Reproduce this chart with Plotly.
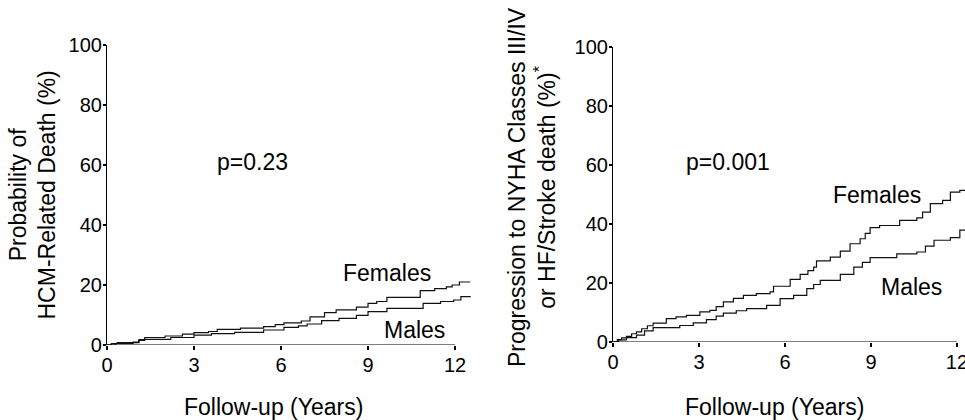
import plotly.graph_objects as go

# ---- data ----
tick_vals = [0, 3, 6, 9, 12]
tick_text = ["0", "3", "6", "9", "12"]
y_tick_vals = [0, 20, 40, 60, 80, 100]

left_fem_x = [0, 0.15, 0.35, 0.9, 1.1, 1.3, 2.0, 2.6, 3.0, 3.5, 3.8, 4.6, 5.4, 5.8, 6.1, 6.7, 7.0, 7.5, 7.9,
              8.6, 9.0, 9.3, 9.65, 10.8, 11.3, 11.7, 11.9, 12.15, 12.52]
left_fem_y = [0, 0.5, 0.8, 1.0, 1.8, 2.5, 3.0, 3.6, 4.1, 4.5, 5.2, 5.6, 6.1, 6.8, 7.4, 8.0, 9.4, 10.8, 11.7,
              12.6, 13.9, 14.5, 15.9, 18.1, 18.8, 19.4, 20.0, 21.0, 21.0]
left_male_x = [0, 0.3, 0.9, 1.1, 1.3, 2.2, 3.0, 3.6, 4.4, 5.4, 6.1, 6.6, 6.9, 7.4, 8.0, 8.6, 9.0, 9.65,
               10.9, 11.5, 11.95, 12.2, 12.52]
left_male_y = [0, 0.5, 0.8, 1.5, 1.9, 2.5, 3.3, 3.8, 4.2, 5.0, 5.9, 6.4, 7.0, 8.1, 8.9, 9.9, 11.1, 12.2,
               13.9, 14.5, 15.0, 16.1, 16.3]

right_fem_x = [0, 0.15, 0.3, 0.47, 0.65, 0.82, 1.0, 1.2, 1.4, 1.86, 2.2, 2.56, 3.03, 3.38, 3.6, 3.85, 4.2,
               4.55, 5.0, 5.48, 5.6, 6.18, 6.53, 6.8, 7.0, 7.1, 7.58, 7.93, 8.27, 8.62, 8.8, 8.97, 9.3,
               10.0, 10.6, 10.8, 11.07, 11.5, 11.77, 12.1, 12.5]
right_fem_y = [0, 0.8, 1.4, 1.9, 2.8, 3.4, 4.5, 5.5, 6.4, 7.9, 8.5, 9.0, 10.2, 10.7, 12.0, 13.6, 14.8,
               15.8, 16.4, 17.0, 18.9, 21.2, 22.9, 24.2, 25.4, 27.5, 28.8, 30.8, 33.3, 35.0, 36.8, 38.8, 39.5,
               41.2, 42.1, 44.0, 46.9, 48.0, 50.8, 51.4, 51.5]
right_male_x = [0, 0.2, 0.47, 0.82, 1.1, 1.4, 2.33, 2.8, 3.26, 3.6, 3.85, 4.3, 4.66, 5.36, 5.83, 6.3, 6.76,
                7.0, 7.23, 7.93, 8.4, 8.7, 8.97, 9.9, 10.6, 10.9, 11.2, 11.77, 12.1, 12.5]
right_male_y = [0, 0.7, 1.5, 2.3, 3.8, 4.9, 5.6, 6.5, 7.6, 8.8, 9.8, 10.6, 11.3, 12.4, 14.7, 15.8, 18.1,
                19.5, 20.9, 22.9, 25.4, 27.0, 28.6, 29.9, 30.5, 32.5, 34.5, 35.4, 37.9, 38.0]

FONT = "Liberation Sans, Arial, Helvetica, sans-serif"
LINE = dict(color="#111111", width=1.2, shape="hv")

W, H = 965, 420


def px(sx):
    """screen x pixel -> paper fraction"""
    return sx / W


def py(sy):
    """screen y pixel (from top) -> paper fraction (from bottom)"""
    return (H - sy) / H


fig = go.Figure()
fig.add_trace(go.Scatter(x=left_fem_x, y=left_fem_y, mode="lines", line=LINE, xaxis="x", yaxis="y",
                         showlegend=False, name="Females"))
fig.add_trace(go.Scatter(x=left_male_x, y=left_male_y, mode="lines", line=LINE, xaxis="x", yaxis="y",
                         showlegend=False, name="Males"))
fig.add_trace(go.Scatter(x=right_fem_x, y=right_fem_y, mode="lines", line=LINE, xaxis="x2", yaxis="y2",
                         showlegend=False, name="Females"))
fig.add_trace(go.Scatter(x=right_male_x, y=right_male_y, mode="lines", line=LINE, xaxis="x2", yaxis="y2",
                         showlegend=False, name="Males"))

xcommon = dict(tickvals=tick_vals, ticktext=tick_text, ticks="outside", ticklen=4, tickwidth=1.5,
               tickcolor="black", showline=False, showgrid=False, zeroline=False, automargin=False,
               ticklabeloverflow="allow", ticklabelstandoff=-2,
               tickfont=dict(family=FONT, size=20, color="black"))
ycommon = dict(tickvals=y_tick_vals, ticks="outside", ticklen=3, tickwidth=1.5, tickcolor="black",
               showline=True, linecolor="black", linewidth=1.2, showgrid=False, zeroline=False,
               automargin=False, ticklabeloverflow="allow", ticklabelstandoff=-3,
               tickfont=dict(family=FONT, size=20, color="black"), range=[0, 100])

fig.update_layout(
    template="none",
    width=W, height=H,
    margin=dict(l=0, r=0, t=0, b=0, autoexpand=False),
    paper_bgcolor="white", plot_bgcolor="white",
    xaxis=dict(domain=[px(107), px(471)], range=[0, 12.55], anchor="y", **xcommon),
    yaxis=dict(domain=[py(345), py(45)], anchor="x", **ycommon),
    xaxis2=dict(domain=[px(613), px(965)], range=[0, 12.28], anchor="y2", **xcommon),
    yaxis2=dict(domain=[py(342), py(47)], anchor="x2", **ycommon),
    font=dict(family=FONT, color="black"),
)

# x-axis lines (end at 12 as in the reference)
fig.add_shape(type="line", xref="x", yref="y", x0=0, x1=12, y0=0, y1=0,
              line=dict(color="black", width=1.2))
fig.add_shape(type="line", xref="x2", yref="y2", x0=0, x1=12, y0=0, y1=0,
              line=dict(color="black", width=1.2))

afont = dict(family=FONT, size=23, color="black")
ann = [
    dict(text="p=0.23", x=5.0, y=61, xref="x", yref="y"),
    dict(text="Females", x=9.65, y=24, xref="x", yref="y"),
    dict(text="Males", x=10.6, y=5, xref="x", yref="y"),
    dict(text="p=0.001", x=4.0, y=61, xref="x2", yref="y2"),
    dict(text="Females", x=9.2, y=50, xref="x2", yref="y2"),
    dict(text="Males", x=10.4, y=18.6, xref="x2", yref="y2"),
    dict(text="Follow-up (Years)", x=px(273), y=py(407), xref="paper", yref="paper"),
    dict(text="Follow-up (Years)", x=px(774), y=py(407), xref="paper", yref="paper"),
    dict(text="Probability of<br>HCM-Related Death (%)", x=px(32.5), y=py(195),
         xref="paper", yref="paper", textangle=-90),
    dict(text="Progression to NYHA Classes III/IV<br>or HF/Stroke death (%)<sup>*</sup>", x=px(532),
         y=py(187), xref="paper", yref="paper", textangle=-90),
]
for a in ann:
    fig.add_annotation(showarrow=False, xanchor="center", yanchor="middle", font=afont, **a)

fig.write_html("out.html",
               config={"displayModeBar": False},
               post_script="document.body.style.margin='0px';document.body.style.overflow='hidden';")
